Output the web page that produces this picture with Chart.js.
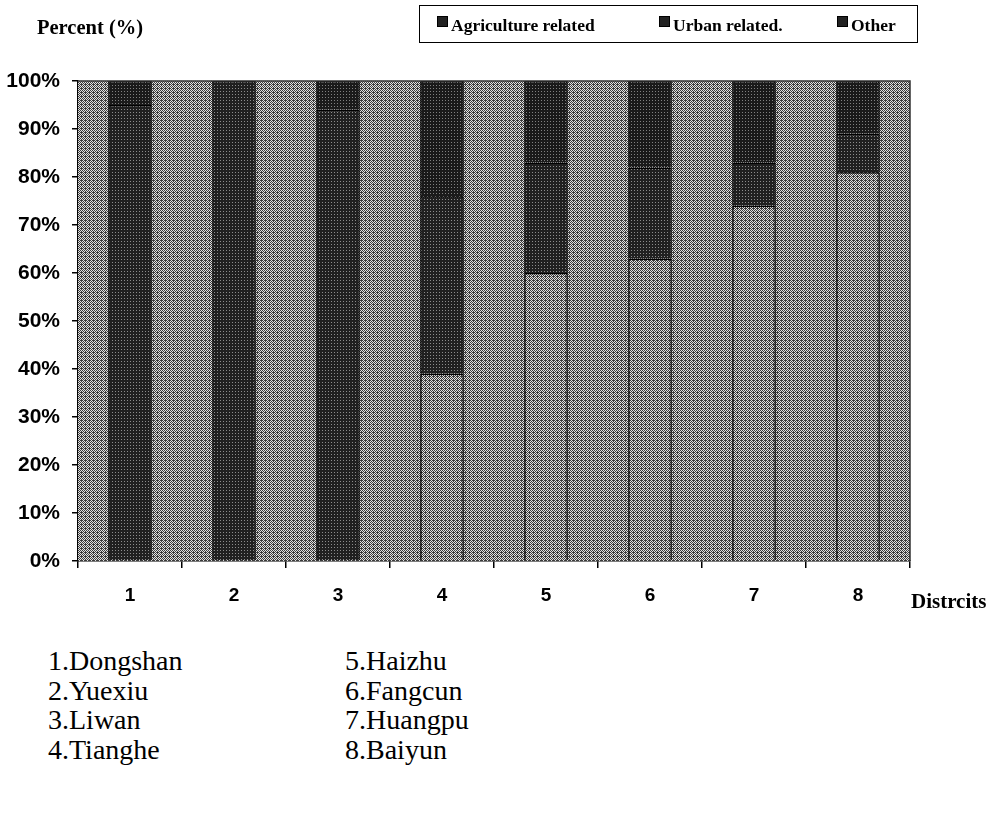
<!DOCTYPE html>
<html>
<head>
<meta charset="utf-8">
<script src="https://cdn.jsdelivr.net/npm/chart.js@4/dist/chart.umd.min.js"></script>
<style>
  body { margin: 0; background: #fff; width: 996px; height: 819px; position: relative; overflow: hidden; }
  #wrap { position: absolute; left: 0; top: 0; width: 996px; height: 640px; }
  .serif { font-family: "Liberation Serif", "DejaVu Serif", serif; color: #000; position: absolute; }
  #ylab { left: 37px; top: 16px; font-size: 20.5px; font-weight: bold; }
  #xlab { left: 911px; top: 589px; font-size: 21px; font-weight: bold; }
  #legend { position: absolute; left: 419px; top: 5px; width: 499px; height: 38px; border: 1.5px solid #000; box-sizing: border-box; }
  .item { position: absolute; top: 9px; font-family: "Liberation Serif", serif; font-weight: bold; font-size: 17.5px; white-space: nowrap; }
  .sw { display: inline-block; width: 11px; height: 11px; margin-right: 3px; vertical-align: 4px; background: #222; border: 1px solid #000; box-sizing: border-box; }
  .names { font-size: 28px; line-height: 29.5px; top: 646px; }
</style>
</head>
<body>
<div id="wrap"><canvas id="chart"></canvas></div>
<div class="serif" id="ylab">Percent (%)</div>
<div class="serif" id="xlab">Distrcits</div>
<div id="legend">
  <div class="item" style="left:17px"><span class="sw"></span>Agriculture related</div>
  <div class="item" style="left:239px"><span class="sw"></span>Urban related.</div>
  <div class="item" style="left:417px"><span class="sw"></span>Other</div>
</div>
<div class="serif names" style="left:48px">1.Dongshan<br>2.Yuexiu<br>3.Liwan<br>4.Tianghe</div>
<div class="serif names" style="left:345px">5.Haizhu<br>6.Fangcun<br>7.Huangpu<br>8.Baiyun</div>
<script>
const districts = ['1', '2', '3', '4', '5', '6', '7', '8'];
const agriculture = [0, 0, 0, 39, 60, 63, 74, 81];
const urban = [95, 100, 94, 37, 23, 19, 9, 8];
const other = [5, 0, 6, 24, 17, 18, 17, 11];
const yTicks = [0, 10, 20, 30, 40, 50, 60, 70, 80, 90, 100];

// halftone-ish fills like the scanned original
function makePattern(size, bg, dot, cells) {
  const c = document.createElement('canvas');
  c.width = size; c.height = size;
  const g = c.getContext('2d');
  g.fillStyle = bg; g.fillRect(0, 0, size, size);
  g.fillStyle = dot;
  cells.forEach(([x, y]) => g.fillRect(x, y, 1, 1));
  return g.createPattern(c, 'repeat');
}
const ctx = document.getElementById('chart').getContext('2d');
const lightFill = makePattern(4, '#e2e2e2', '#3c3c3c', [[0,0],[2,0],[1,1],[3,1],[0,2],[2,2],[1,3],[3,3],[1,0]]);
const urbanFill = makePattern(3, '#202020', '#8c8c8c', [[1,1]]);
const otherFill = makePattern(3, '#1a1a1a', '#808080', [[1,1]]);

const plotBg = {
  id: 'plotBg',
  beforeDatasetsDraw(chart) {
    const a = chart.chartArea, c = chart.ctx;
    c.save();
    c.fillStyle = lightFill;
    c.fillRect(a.left, a.top, a.right - a.left, a.bottom - a.top);
    c.restore();
  },
  afterDatasetsDraw(chart) {
    const a = chart.chartArea, c = chart.ctx;
    c.save();
    c.strokeStyle = '#333';
    c.lineWidth = 1.5;
    c.beginPath();
    c.moveTo(a.left, a.top); c.lineTo(a.right, a.top); c.lineTo(a.right, a.bottom);
    c.stroke();
    c.restore();
  }
};

const border = { left: 1.5, right: 1.5, top: 1.5, bottom: 0 };
new Chart(ctx, {
  type: 'bar',
  data: {
    labels: districts,
    datasets: [
      { label: 'Agriculture related', data: agriculture, backgroundColor: lightFill, borderColor: '#000', borderWidth: border, borderSkipped: false },
      { label: 'Urban related.', data: urban, backgroundColor: urbanFill, borderColor: '#000', borderWidth: border, borderSkipped: false },
      { label: 'Other', data: other, backgroundColor: otherFill, borderColor: '#000', borderWidth: border, borderSkipped: false }
    ]
  },
  options: {
    responsive: true, maintainAspectRatio: false, animation: false,
    layout: { padding: { left: 0, top: 81, right: 86, bottom: 29 } },
    datasets: { bar: { categoryPercentage: 1, barPercentage: 0.42 } },
    plugins: { legend: { display: false }, tooltip: { enabled: false } },
    scales: {
      x: {
        stacked: true,
        grid: { offset: true, drawOnChartArea: false, tickLength: 7, color: '#000', lineWidth: 1.5 },
        border: { color: '#000', width: 1.5 },
        ticks: { color: '#000', padding: 16, font: { family: 'Liberation Sans', size: 19, weight: 'bold' } },
        afterFit: (axis) => { axis.height = 50; }
      },
      y: {
        stacked: true, min: 0, max: 100,
        afterBuildTicks: (axis) => { axis.ticks = yTicks.map(v => ({ value: v })); },
        grid: { drawOnChartArea: false, tickLength: 6, color: '#000', lineWidth: 1.5 },
        border: { color: '#000', width: 1.5 },
        ticks: { color: '#000', padding: 12, callback: v => v + '%', font: { family: 'Liberation Sans', size: 21, weight: 'bold' } },
        afterFit: (axis) => { axis.width = 78; }
      }
    }
  },
  plugins: [plotBg]
});
</script>
</body>
</html>
